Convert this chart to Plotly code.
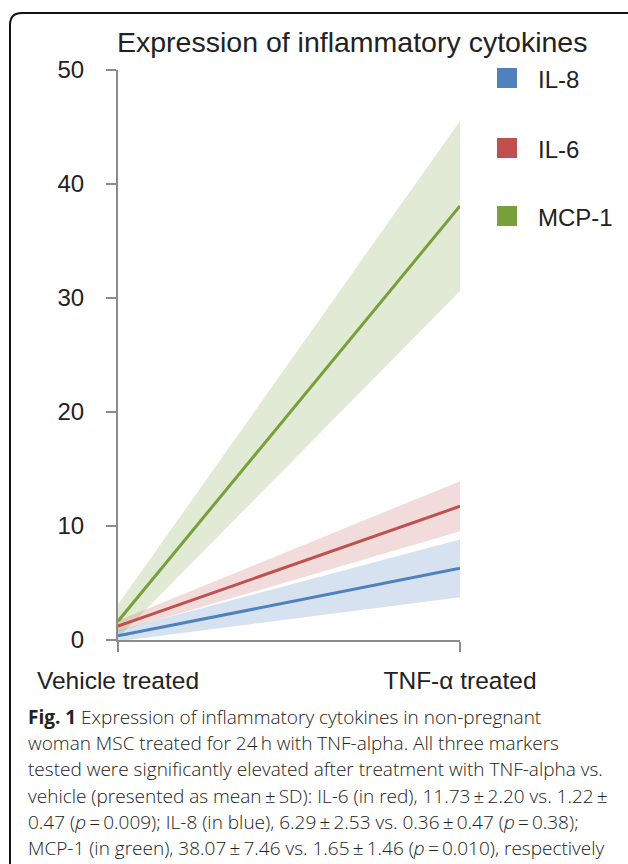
import plotly.graph_objects as go

# ---- data ----
categories = ["Vehicle treated", "TNF-α treated"]
series_names = ["IL-8", "IL-6", "MCP-1"]
il8_mean = [0.36, 6.29]
il8_sd = [0.47, 2.53]
il6_mean = [1.22, 11.73]
il6_sd = [0.47, 2.20]
mcp1_mean = [1.65, 38.07]
mcp1_sd = [1.46, 7.46]
y_ticks = [0, 10, 20, 30, 40, 50]

line_colors = ["#4F81BD", "#C0504D", "#77A03A"]
band_colors = ["rgba(79,129,189,0.23)", "rgba(192,80,77,0.2)", "rgba(119,160,58,0.22)"]

W, H = 628, 864
L, R, T, B = 118, 460, 70, 640  # plot area pixels


def px(x):
    return (x - L) / (R - L)


def py(y):
    return (B - y) / (B - T)


xs = [0, 1]
fig = go.Figure()
means = [il8_mean, il6_mean, mcp1_mean]
sds = [il8_sd, il6_sd, mcp1_sd]

for i in [2, 1, 0]:
    m, s = means[i], sds[i]
    up = [a + b for a, b in zip(m, s)]
    lo = [a - b for a, b in zip(m, s)]
    fig.add_trace(go.Scatter(
        x=xs + xs[::-1], y=up + lo[::-1], fill="toself", mode="lines",
        line=dict(width=0), fillcolor=band_colors[i], hoverinfo="skip",
        showlegend=False))
for i in [2, 1, 0]:
    fig.add_trace(go.Scatter(
        x=xs, y=means[i], mode="lines", name=series_names[i],
        line=dict(color=line_colors[i], width=3), showlegend=False))

axis_col = "#8c8c8c"
fig.update_layout(
    width=W, height=H,
    margin=dict(l=L, r=W - R, t=T, b=H - B, pad=0),
    paper_bgcolor="white", plot_bgcolor="white",
    font=dict(family="Liberation Sans, Arial, sans-serif", color="#222222", size=24),
    showlegend=False,
    xaxis=dict(range=[0, 1], tickvals=xs, ticktext=categories, showgrid=False,
               zeroline=False, showline=True, linecolor=axis_col, linewidth=2,
               ticks="outside", ticklen=10, tickwidth=2, tickcolor=axis_col,
               tickfont=dict(size=24.5, color="#222222"), ticklabelstandoff=8),
    yaxis=dict(range=[0, 50], tickvals=y_ticks, showgrid=False, zeroline=False,
               showline=True, linecolor=axis_col, linewidth=2,
               ticks="outside", ticklen=10, tickwidth=2, tickcolor=axis_col,
               tickfont=dict(size=24, color="#222222"), ticklabelstandoff=17),
)

# title
fig.add_annotation(text="Expression of inflammatory cytokines", xref="paper", yref="paper",
                   x=px(352), y=py(42), showarrow=False, xanchor="center", yanchor="middle",
                   font=dict(size=28.5, color="#222222", family="Liberation Sans, Arial"))

# legend (manual)
leg_y = [78, 148, 216]
for k, i in enumerate([0, 1, 2]):
    cy = leg_y[k]
    fig.add_shape(type="rect", xref="paper", yref="paper",
                  x0=px(497), x1=px(517), y0=py(cy - 10), y1=py(cy + 10),
                  fillcolor=line_colors[i], line=dict(width=0))
    fig.add_annotation(text=series_names[i], xref="paper", yref="paper",
                       x=px(536), y=py(cy + 1), xanchor="left", yanchor="middle",
                       showarrow=False, font=dict(size=24, color="#222222"))

# rounded frame
r = 12
x0, y0 = 10, 13
path = (f"M {px(x0)},{py(H + 20)} L {px(x0)},{py(y0 + r)} "
        f"Q {px(x0)},{py(y0)} {px(x0 + r)},{py(y0)} L {px(W + 20)},{py(y0)}")
fig.add_shape(type="path", xref="paper", yref="paper", path=path,
              line=dict(color="#111111", width=2))

# caption
ts = "\u2009"
caption_lines = [
    "<b>Fig. 1</b> Expression of inflammatory cytokines in non-pregnant",
    f"woman MSC treated for 24{ts}h with TNF-alpha. All three markers",
    "tested were significantly elevated after treatment with TNF-alpha vs.",
    f"vehicle (presented as mean{ts}±{ts}SD): IL-6 (in red), 11.73{ts}±{ts}2.20 vs. 1.22{ts}±",
    f"0.47 (<i>p</i>{ts}={ts}0.009); IL-8 (in blue), 6.29{ts}±{ts}2.53 vs. 0.36{ts}±{ts}0.47 (<i>p</i>{ts}={ts}0.38);",
    f"MCP-1 (in green), 38.07{ts}±{ts}7.46 vs. 1.65{ts}±{ts}1.46 (<i>p</i>{ts}={ts}0.010), respectively",
]
cap_y0, cap_dy = 717, 26.2
for j, line in enumerate(caption_lines):
    fig.add_annotation(text=line, xref="paper", yref="paper",
                       x=px(26), y=py(cap_y0 + j * cap_dy), xanchor="left", yanchor="middle",
                       showarrow=False,
                       font=dict(size=19, color="#222222", family="Open Sans, sans-serif",
                                 weight=300))

fig.write_html("out.html")
